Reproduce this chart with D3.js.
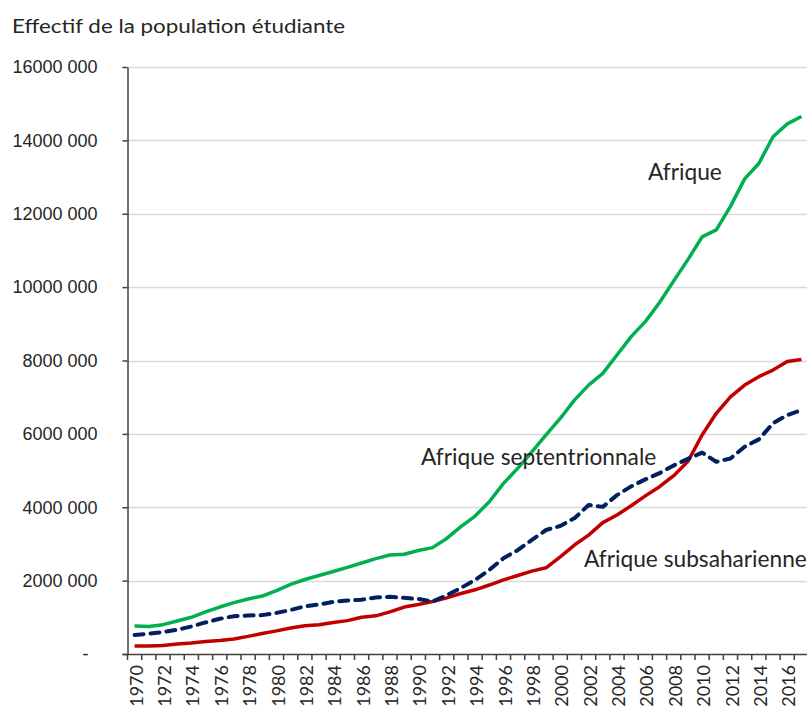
<!DOCTYPE html>
<html lang="fr">
<head>
<meta charset="utf-8">
<script src="https://cdn.jsdelivr.net/npm/d3@7"></script>
<style>
  html, body { margin: 0; padding: 0; background: #fff; }
  svg { display: block; font-family: Lato, "Open Sans", sans-serif; }
</style>
</head>
<body>
<div id="chart"></div>
<script>
// Years on the category axis
const years = [1970, 1971, 1972, 1973, 1974, 1975, 1976, 1977, 1978, 1979,
  1980, 1981, 1982, 1983, 1984, 1985, 1986, 1987, 1988, 1989,
  1990, 1991, 1992, 1993, 1994, 1995, 1996, 1997, 1998, 1999,
  2000, 2001, 2002, 2003, 2004, 2005, 2006, 2007, 2008, 2009,
  2010, 2011, 2012, 2013, 2014, 2015, 2016, 2017];

// Student population, in millions
const afrique = [0.76, 0.75, 0.80, 0.90, 1.00, 1.15, 1.28, 1.40, 1.50, 1.58,
  1.73, 1.90, 2.03, 2.14, 2.25, 2.36, 2.48, 2.60, 2.70, 2.72,
  2.82, 2.90, 3.15, 3.47, 3.76, 4.15, 4.65, 5.06, 5.51, 5.97,
  6.42, 6.92, 7.33, 7.65, 8.15, 8.65, 9.06, 9.58, 10.17, 10.75,
  11.37, 11.56, 12.20, 12.95, 13.37, 14.10, 14.45, 14.65];

const afriqueNord = [0.52, 0.55, 0.60, 0.66, 0.75, 0.86, 0.96, 1.03, 1.05, 1.06,
  1.12, 1.20, 1.30, 1.35, 1.42, 1.46, 1.48, 1.54, 1.56, 1.53,
  1.50, 1.43, 1.60, 1.80, 2.02, 2.29, 2.61, 2.83, 3.11, 3.38,
  3.49, 3.70, 4.06, 4.01, 4.33, 4.57, 4.76, 4.93, 5.14, 5.32,
  5.49, 5.24, 5.33, 5.65, 5.85, 6.29, 6.51, 6.65];

const afriqueSub = [0.22, 0.22, 0.23, 0.27, 0.30, 0.34, 0.37, 0.41, 0.48, 0.56,
  0.63, 0.71, 0.77, 0.80, 0.86, 0.91, 1.00, 1.04, 1.15, 1.28,
  1.35, 1.43, 1.53, 1.65, 1.75, 1.88, 2.02, 2.14, 2.26, 2.35,
  2.65, 2.97, 3.24, 3.58, 3.79, 4.04, 4.31, 4.56, 4.86, 5.25,
  5.97, 6.56, 7.01, 7.33, 7.56, 7.74, 7.97, 8.03];

const yTicks = [0, 2, 4, 6, 8, 10, 12, 14, 16];
const yTickLabels = ["-", "2000 000", "4000 000", "6000 000", "8000 000",
  "10000 000", "12000 000", "14000 000", "16000 000"];

const width = 807, height = 711;
const svg = d3.select("#chart").append("svg")
  .attr("width", width)
  .attr("height", height);

const x = d3.scaleBand().domain(years).range([127.5, 808.5]);
const y = d3.scaleLinear().domain([0, 16]).range([654, 67]);
const cx = d => x(d) + x.bandwidth() / 2;

const textColor = "#262626";
const axisColor = "#404040";

// title
svg.append("text")
  .attr("x", 12)
  .attr("y", 33)
  .attr("fill", textColor)
  .attr("textLength", 333)
  .attr("lengthAdjust", "spacingAndGlyphs")
  .style("font-size", "18.5px")
  .text("Effectif de la population étudiante");

// gridlines
svg.append("g")
  .selectAll("line")
  .data(yTicks.filter(d => d > 0))
  .join("line")
  .attr("x1", 127.5)
  .attr("x2", width)
  .attr("y1", d => Math.round(y(d)) + 0.5)
  .attr("y2", d => Math.round(y(d)) + 0.5)
  .attr("stroke", "#d9d9d9")
  .attr("stroke-width", 1.5);

// y axis
const yAxis = svg.append("g")
  .attr("transform", "translate(127.5,0)")
  .call(d3.axisLeft(y)
    .tickValues(yTicks)
    .tickSize(5)
    .tickSizeOuter(0)
    .tickPadding(25)
    .tickFormat((d, i) => yTickLabels[i]));
yAxis.select(".domain").attr("stroke", axisColor).attr("stroke-width", 1.5);
yAxis.selectAll(".tick line").attr("stroke", axisColor).attr("stroke-width", 1.5);
yAxis.selectAll(".tick text")
  .attr("fill", textColor)
  .style("font-size", "18px")
  .attr("dx", d => d === 0 ? -9 : 0);

// x axis
const xAxis = svg.append("g");
xAxis.append("line")
  .attr("x1", 122.5)
  .attr("x2", width)
  .attr("y1", 654.5)
  .attr("y2", 654.5)
  .attr("stroke", axisColor)
  .attr("stroke-width", 1.5);
xAxis.selectAll(".xtick")
  .data(years.map(d => x(d)).concat([x.range()[1]]))
  .join("line")
  .attr("class", "xtick")
  .attr("x1", d => d)
  .attr("x2", d => d)
  .attr("y1", 654.5)
  .attr("y2", 660)
  .attr("stroke", axisColor)
  .attr("stroke-width", 1.5);
xAxis.selectAll(".xlabel")
  .data(years.filter((d, i) => i % 2 === 0))
  .join("text")
  .attr("class", "xlabel")
  .attr("transform", d => `translate(${cx(d)},${665}) rotate(-90)`)
  .attr("text-anchor", "end")
  .attr("dy", "0.45em")
  .attr("fill", textColor)
  .style("font-size", "18px")
  .text(d => d);

// series
const series = [
  { name: "Afrique", values: afrique, color: "#00b050", width: 3.5, dash: null },
  { name: "Afrique subsaharienne", values: afriqueSub, color: "#c00000", width: 3.5, dash: null },
  { name: "Afrique septentrionnale", values: afriqueNord, color: "#002060", width: 4, dash: "9,7" }
];

const line = d3.line()
  .x(d => cx(d.year))
  .y(d => y(d.value));

svg.append("g")
  .selectAll("path")
  .data(series)
  .join("path")
  .attr("d", s => line(years.map((yr, i) => ({ year: yr, value: s.values[i] }))))
  .attr("fill", "none")
  .attr("stroke", s => s.color)
  .attr("stroke-width", s => s.width)
  .attr("stroke-linejoin", "round")
  .attr("stroke-linecap", s => s.dash ? "round" : "butt")
  .attr("stroke-dasharray", s => s.dash);

// line labels
const labels = [
  { text: "Afrique", x: 648, y: 180 },
  { text: "Afrique septentrionnale", x: 421, y: 465 },
  { text: "Afrique subsaharienne", x: 584, y: 567 }
];
svg.append("g")
  .selectAll("text")
  .data(labels)
  .join("text")
  .attr("x", d => d.x)
  .attr("y", d => d.y)
  .attr("fill", textColor)
  .style("font-size", "22.7px")
  .text(d => d.text);
</script>
</body>
</html>
